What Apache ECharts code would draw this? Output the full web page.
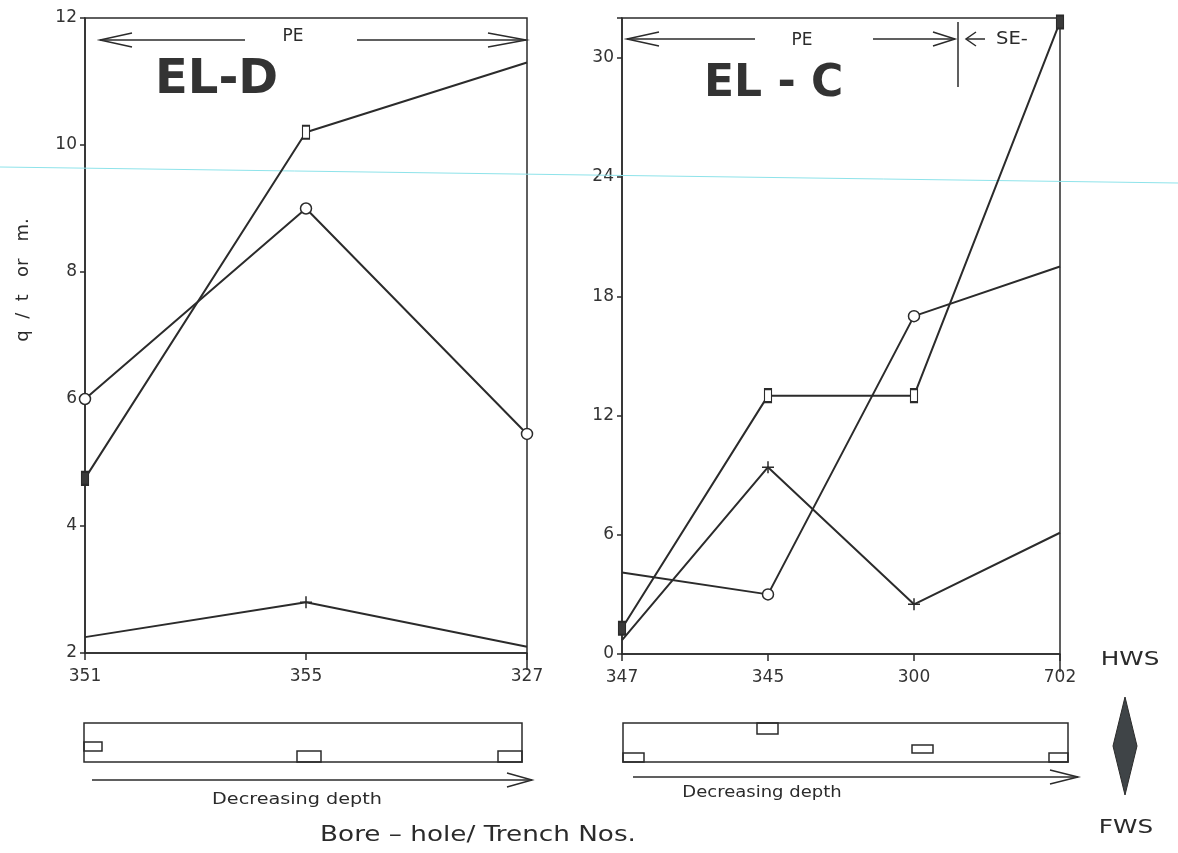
<!DOCTYPE html>
<html>
<head>
<meta charset="utf-8">
<script src="https://cdn.jsdelivr.net/npm/echarts@6/dist/echarts.min.js"></script>
<style>
  html, body { margin: 0; padding: 0; background: #fff; }
  #chart { width: 1178px; height: 853px; }
</style>
</head>
<body>
<div id="chart"></div>
<script>
// EL-D block (left)
const leftCats = ['351', '355', '327'];
const leftSquare = [4.75, 10.2, 11.3];
const leftCircle = [6.0, 9.0, 5.45];
const leftPlus = [2.25, 2.8, 2.1];

// EL-C block (right)
const rightCats = ['347', '345', '300', '702'];
const rightSquare = [1.3, 13, 13, 31.8];
const rightCircle = [4.1, 3.0, 17, 19.5];
const rightPlus = [0.7, 9.4, 2.5, 6.1];

const INK = '#2b2b2b';
const FONT = 'DejaVu Sans';
const plusPath = 'path://M5,0L5,10M0,5L10,5';

// which points carry a marker in the drawing, and which are filled
function pts(values, hidden, filled) {
  return values.map((v, i) => {
    const item = { value: v };
    if (hidden.indexOf(i) >= 0) item.symbol = 'none';
    if (filled.indexOf(i) >= 0) item.itemStyle = { color: '#3a3a3a' };
    return item;
  });
}

function lineSeries(name, data, idx, symbol, size) {
  return {
    name,
    type: 'line',
    xAxisIndex: idx,
    yAxisIndex: idx,
    data,
    symbol,
    symbolSize: size,
    showAllSymbol: true,
    lineStyle: { color: INK, width: 2 },
    itemStyle: { color: '#fff', borderColor: INK, borderWidth: 1.5 },
    emphasis: { disabled: true },
    z: 3,
  };
}

function arrow(x1, x2, y, head) {
  // plain line with an open arrowhead at x2
  const dir = x2 > x1 ? 1 : -1;
  return [
    { type: 'line', shape: { x1, y1: y, x2, y2: y }, style: { stroke: INK, lineWidth: 1.5 } },
    { type: 'polyline', shape: { points: [[x2 - dir * head, y - 7], [x2, y], [x2 - dir * head, y + 7]] }, style: { stroke: INK, lineWidth: 1.5, fill: null } },
  ];
}

function rect(x, y, w, h) {
  return { type: 'rect', shape: { x, y, width: w, height: h }, style: { stroke: INK, lineWidth: 1.5, fill: null } };
}

function text(t, x, y, size, extra) {
  return Object.assign({
    type: 'text', x, y,
    style: { text: t, font: size + 'px "' + FONT + '"', fill: INK, textAlign: 'center', textVerticalAlign: 'middle' },
  }, extra || {});
}

const axisLabelStyle = { color: '#333', fontFamily: FONT, fontSize: 17 };

const option = {
  backgroundColor: '#fff',
  animation: false,
  title: [
    { text: 'EL-D', left: 150, top: 52, textStyle: { fontFamily: FONT, fontSize: 48, fontWeight: 'bold', color: '#333' } },
    { text: 'EL - C', left: 699, top: 58, textStyle: { fontFamily: FONT, fontSize: 44, fontWeight: 'bold', color: '#333' } },
  ],
  grid: [
    { left: 85, right: 651, top: 18, bottom: 200, show: true, borderColor: INK, borderWidth: 1.5 },
    { left: 622, right: 118, top: 18, bottom: 199, show: true, borderColor: INK, borderWidth: 1.5 },
  ],
  xAxis: [
    {
      type: 'category', gridIndex: 0, data: leftCats, boundaryGap: false,
      axisLine: { lineStyle: { color: INK, width: 1.5 } },
      axisTick: { length: 7, lineStyle: { color: INK, width: 1.5 } },
      axisLabel: Object.assign({ margin: 15 }, axisLabelStyle),
      splitLine: { show: false },
    },
    {
      type: 'category', gridIndex: 1, data: rightCats, boundaryGap: false,
      axisLine: { lineStyle: { color: INK, width: 1.5 } },
      axisTick: { length: 7, lineStyle: { color: INK, width: 1.5 } },
      axisLabel: Object.assign({ margin: 15 }, axisLabelStyle),
      splitLine: { show: false },
    },
  ],
  yAxis: [
    {
      type: 'value', gridIndex: 0, min: 2, max: 12, interval: 2,
      axisLine: { show: true, lineStyle: { color: INK, width: 1.5 } },
      axisTick: { show: true, length: 5, lineStyle: { color: INK, width: 1.5 } },
      axisLabel: Object.assign({ margin: 8 }, axisLabelStyle),
      splitLine: { show: false },
    },
    {
      type: 'value', gridIndex: 1, min: 0, max: 32, interval: 6,
      axisLine: { show: true, lineStyle: { color: INK, width: 1.5 } },
      axisTick: { show: true, length: 5, lineStyle: { color: INK, width: 1.5 } },
      axisLabel: Object.assign({ margin: 8, formatter: v => (v % 6 === 0 ? v : '') }, axisLabelStyle),
      splitLine: { show: false },
    },
  ],
  series: [
    lineSeries('square', pts(leftSquare, [2], [0]), 0, 'rect', [7, 13]),
    lineSeries('circle', pts(leftCircle, [], []), 0, 'circle', 11),
    lineSeries('plus', pts(leftPlus, [0, 2], []), 0, plusPath, 12),
    lineSeries('square', pts(rightSquare, [], [0, 3]), 1, 'rect', [7, 13]),
    lineSeries('circle', pts(rightCircle, [0, 3], []), 1, 'circle', 11),
    lineSeries('plus', pts(rightPlus, [0, 3], []), 1, plusPath, 12),
  ],
  graphic: [
    // scan artefact line
    { type: 'line', shape: { x1: 0, y1: 167, x2: 1178, y2: 183 }, style: { stroke: '#8ee3ea', lineWidth: 1 }, z: 1 },
    // y axis title
    text('q  /  t   or   m.', 23, 280, 18, { rotation: Math.PI / 2 }),
    // PE arrows, left block
    ...arrow(245, 100, 40, 32),
    text('PE', 293, 37, 17),
    ...arrow(357, 526, 40, 38),
    // PE / SE arrows, right block
    ...arrow(755, 627, 39, 32),
    text('PE', 802, 41, 17),
    ...arrow(873, 955, 39, 22),
    { type: 'line', shape: { x1: 958, y1: 22, x2: 958, y2: 87 }, style: { stroke: INK, lineWidth: 1.5 } },
    ...arrow(985, 966, 39, 10),
    text('SE-', 1012, 40, 17, { scaleX: 1.15 }),
    // axis lines running past the base
    { type: 'line', shape: { x1: 527, y1: 653, x2: 527, y2: 670 }, style: { stroke: INK, lineWidth: 1.5 } },
    { type: 'line', shape: { x1: 1060, y1: 654, x2: 1060, y2: 672 }, style: { stroke: INK, lineWidth: 1.5 } },
    // bore-hole schematic, left
    rect(84, 723, 438, 39),
    rect(84, 742, 18, 9),
    rect(297, 751, 24, 11),
    rect(498, 751, 24, 11),
    ...arrow(92, 532, 780, 25),
    text('Decreasing depth', 297, 800, 16, { scaleX: 1.2 }),
    // bore-hole schematic, right
    rect(623, 723, 445, 39),
    rect(623, 753, 21, 9),
    rect(757, 723, 21, 11),
    rect(912, 745, 21, 8),
    rect(1049, 753, 19, 9),
    ...arrow(633, 1078, 777, 28),
    text('Decreasing depth', 762, 793, 15, { scaleX: 1.2 }),
    text('Bore \u2013 hole/ Trench Nos.', 478, 836, 21, { scaleX: 1.25 }),
    // HWS / FWS diamond
    text('HWS', 1130, 660, 19, { scaleX: 1.3 }),
    { type: 'polygon', shape: { points: [[1125, 697], [1137, 746], [1125, 795], [1113, 746]] }, style: { fill: '#3f4447', stroke: INK, lineWidth: 1 } },
    text('FWS', 1126, 828, 19, { scaleX: 1.3 }),
  ],
};

const chart = echarts.init(document.getElementById('chart'));
chart.setOption(option);
</script>
</body>
</html>
